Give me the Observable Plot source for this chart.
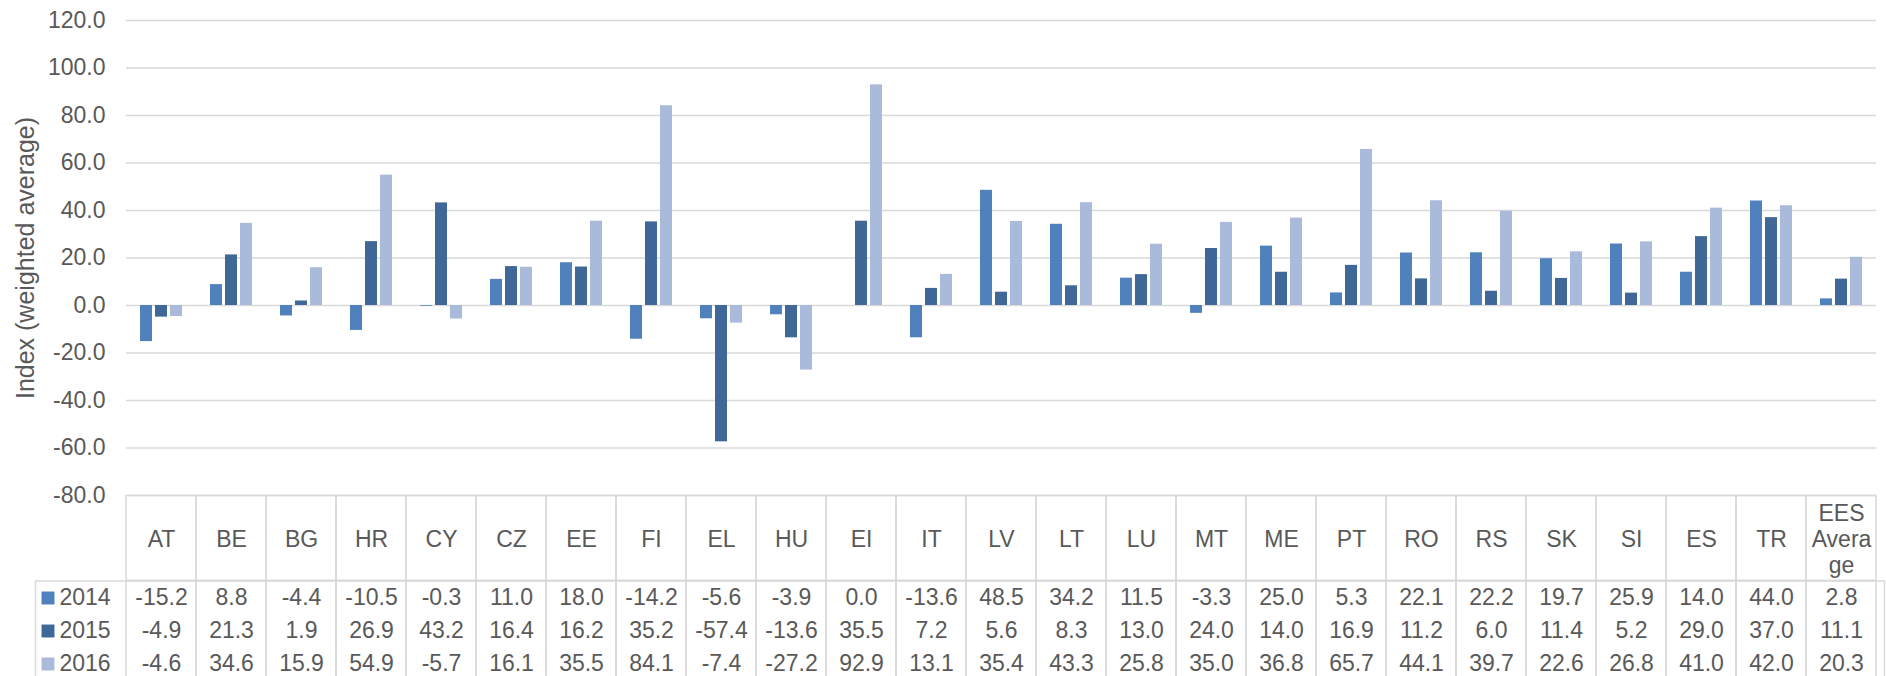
<!DOCTYPE html>
<html>
<head>
<meta charset="utf-8">
<script src="https://cdn.jsdelivr.net/npm/d3@7"></script>
<script src="https://cdn.jsdelivr.net/npm/@observablehq/plot@0.6"></script>
<style>
  html, body { margin: 0; padding: 0; background: #fff; overflow: hidden; }
  #wrap { position: relative; width: 1886px; height: 676px; }
  #wrap > svg { position: absolute; left: 0; }
</style>
</head>
<body>
<div id="wrap"></div>
<script>
const countries = ["AT","BE","BG","HR","CY","CZ","EE","FI","EL","HU","EI","IT","LV","LT","LU","MT","ME","PT","RO","RS","SK","SI","ES","TR","EES Average"];
const headerLabels = ["AT","BE","BG","HR","CY","CZ","EE","FI","EL","HU","EI","IT","LV","LT","LU","MT","ME","PT","RO","RS","SK","SI","ES","TR","EES\nAvera\nge"];
const years = ["2014","2015","2016"];
const v2014 = [-15.2,8.8,-4.4,-10.5,-0.3,11.0,18.0,-14.2,-5.6,-3.9,0.0,-13.6,48.5,34.2,11.5,-3.3,25.0,5.3,22.1,22.2,19.7,25.9,14.0,44.0,2.8];
const v2015 = [-4.9,21.3,1.9,26.9,43.2,16.4,16.2,35.2,-57.4,-13.6,35.5,7.2,5.6,8.3,13.0,24.0,14.0,16.9,11.2,6.0,11.4,5.2,29.0,37.0,11.1];
const v2016 = [-4.6,34.6,15.9,54.9,-5.7,16.1,35.5,84.1,-7.4,-27.2,92.9,13.1,35.4,43.3,25.8,35.0,36.8,65.7,44.1,39.7,22.6,26.8,41.0,42.0,20.3];
const yTicks = [-80,-60,-40,-20,0,20,40,60,80,100,120];
const yLabel = "Index (weighted average)";
const seriesColors = ["#4f81bd", "#3f6899", "#a9badb"];

const seriesValues = [v2014, v2015, v2016];
const rows = [];
years.forEach((yr, i) => countries.forEach((c, j) => rows.push({country: c, year: yr, value: seriesValues[i][j]})));

const textColor = "#595959";
const lineColor = "#d9d9d9";
const font = {fontFamily: "'Liberation Sans', Arial, sans-serif", fontSize: "23px", color: textColor, background: "transparent", overflow: "visible"};
const W = 1886, L = 118, R = 2;
const colorScale = {domain: years, range: seriesColors};

// Chart
const chart = Plot.plot({
  width: W, height: 497,
  marginLeft: L, marginRight: R, marginTop: 20, marginBottom: 2,
  style: font,
  fx: {domain: countries, padding: 0, axis: null},
  x: {domain: years, paddingInner: 0.225, paddingOuter: 0.82, axis: null},
  y: {domain: [-80, 120]},
  color: colorScale,
  marks: [
    Plot.gridY(yTicks, {stroke: lineColor, strokeOpacity: 1, strokeWidth: 1.3}),
    Plot.barY(rows, {fx: "country", x: "year", y: "value", fill: "year"}),
    Plot.axisY(yTicks, {tickSize: 0, tickPadding: 21, tickFormat: d => d.toFixed(1), fontSize: 23, label: null}),
    Plot.axisY([], {tickSize: 0, fontSize: 25,
      label: yLabel, labelAnchor: "center", labelArrow: "none", labelOffset: 110})
  ]
});
chart.style.top = "0px";

// Header row of the data table
const header = Plot.plot({
  width: W, height: 86,
  marginLeft: L, marginRight: R, marginTop: 0.5, marginBottom: 0.5,
  style: font,
  x: {domain: countries, padding: 0, axis: null},
  marks: [
    Plot.cell(countries, {x: d => d, fill: "none", stroke: lineColor, strokeWidth: 1.5}),
    Plot.text(countries, {x: d => d, text: (d, i) => headerLabels[i], frameAnchor: "middle", lineHeight: 1.15, fontSize: 23})
  ]
});
header.style.top = "495px";

// Body rows of the data table with legend keys
const body = Plot.plot({
  width: W, height: 100,
  marginLeft: 35, marginRight: R, marginTop: 0.5, marginBottom: 0,
  style: font,
  x: {domain: countries, range: [L, W - R], padding: 0, axis: null},
  y: {type: "band", domain: years, padding: 0, axis: null},
  color: colorScale,
  marks: [
    Plot.frame({stroke: lineColor, strokeWidth: 1.5}),
    Plot.cell(countries, {x: d => d, fill: "none", stroke: lineColor, strokeWidth: 1.5}),
    Plot.dot(years, {y: d => d, frameAnchor: "left", dx: 12.5, symbol: "square", r: 7.3, fill: d => d, stroke: "none"}),
    Plot.text(years, {y: d => d, frameAnchor: "left", dx: 24, text: d => d, textAnchor: "start", fontSize: 23}),
    Plot.text(rows, {x: "country", y: "year", text: d => d.value.toFixed(1), fontSize: 23})
  ]
});
body.style.top = "580px";

const wrap = document.getElementById("wrap");
wrap.append(chart, header, body);
</script>
</body>
</html>
